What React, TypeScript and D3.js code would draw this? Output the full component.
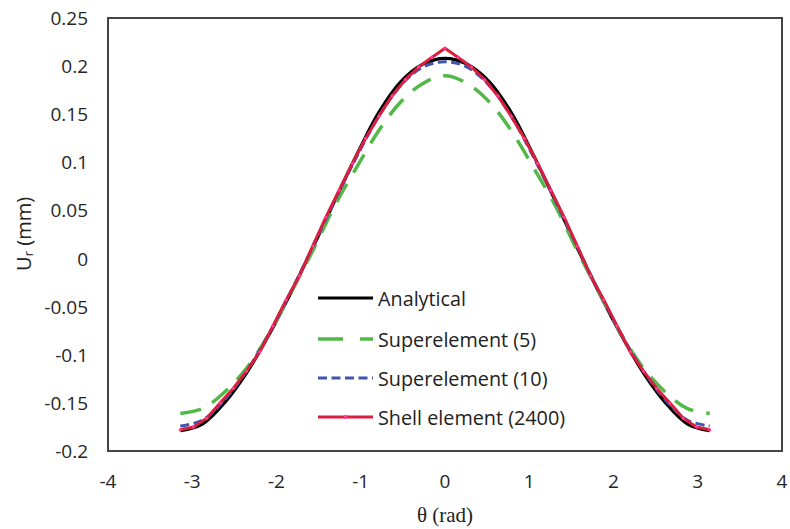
import React from "react";
import * as d3 from "d3";

// theta grid (rad), step pi/12, left half (mirrored for right half)
const thetaHalf = [-3.1416, -2.8798, -2.618, -2.3562, -2.0944, -1.8326, -1.5708, -1.309, -1.0472, -0.7854, -0.5236, -0.2618, 0];
const analyticalHalf = [-0.179, -0.172, -0.150, -0.119, -0.080, -0.036, 0.011, 0.060, 0.108, 0.152, 0.184, 0.202, 0.208];
const super5Half = [-0.161, -0.156, -0.139, -0.114, -0.079, -0.036, 0.008, 0.055, 0.095, 0.133, 0.163, 0.182, 0.190];
const super10Half = [-0.174, -0.168, -0.147, -0.117, -0.079, -0.035, 0.012, 0.060, 0.106, 0.148, 0.180, 0.199, 0.2045];

// shell element, theta step pi/20
const shellThetaHalf = [-3.1416, -2.9845, -2.8274, -2.6704, -2.5133, -2.3562, -2.1991, -2.042, -1.885, -1.7279, -1.5708, -1.4137, -1.2566, -1.0996, -0.9425, -0.7854, -0.6283, -0.4712, -0.3142, -0.1571, 0];
const shellHalf = [-0.178, -0.175, -0.166, -0.150, -0.135, -0.117, -0.097, -0.070, -0.043, -0.018, 0.013, 0.043, 0.071, 0.099, 0.125, 0.148, 0.169, 0.186, 0.199, 0.209, 0.2186];

const xTicks = [-4, -3, -2, -1, 0, 1, 2, 3, 4];
const yTicks = [0.25, 0.2, 0.15, 0.1, 0.05, 0, -0.05, -0.1, -0.15, -0.2];

const seriesNames = ["Analytical", "Superelement (5)", "Superelement (10)", "Shell element (2400)"];

function mirror(th: number[], v: number[]): [number, number][] {
  const left = th.map((t, i) => [t, v[i]] as [number, number]);
  const right = th
    .slice(0, -1)
    .map((t, i) => [-t, v[i]] as [number, number])
    .reverse();
  return [...left, ...right];
}

export default function App() {
  const W = 790, H = 529;
  const x = d3.scaleLinear().domain([-4, 4]).range([108, 782]);
  const y = d3.scaleLinear().domain([-0.2, 0.25]).range([451, 18]);

  const smooth = d3.line<[number, number]>().x(d => x(d[0])).y(d => y(d[1])).curve(d3.curveCatmullRom);
  const lin = d3.line<[number, number]>().x(d => x(d[0])).y(d => y(d[1]));

  const anal = mirror(thetaHalf, analyticalHalf);
  const s5 = mirror(thetaHalf, super5Half);
  const s10 = mirror(thetaHalf, super10Half);
  const shell = mirror(shellThetaHalf, shellHalf);

  const tickColor = "#262626";
  const font = "'Open Sans', sans-serif";

  const legendY = [298, 339, 378, 417];
  const lx0 = 318, lx1 = 373;

  const styles = [
    { stroke: "#000", width: 3.2, dash: undefined as string | undefined },
    { stroke: "#52b848", width: 3.5, dash: "21 13" },
    { stroke: "#3f56ad", width: 3, dash: "9 4.5" },
    { stroke: "#d91e3e", width: 3, dash: undefined as string | undefined },
  ];

  return (
    <svg width={W} height={H} style={{ position: "absolute", left: 0, top: 0, background: "#fff" }}>
      <rect x={0} y={0} width={W} height={H} fill="#fff" />
      {/* frame */}
      <rect x={108} y={18} width={674} height={433} fill="none" stroke="#444" strokeWidth={2} />

      {/* y ticks */}
      {yTicks.map(t => (
        <text key={"y" + t} x={88} y={y(t)} textAnchor="end" dominantBaseline="central" fontFamily={font} fontSize={19} fill={tickColor}>
          {String(t)}
        </text>
      ))}
      {/* x ticks */}
      {xTicks.map(t => (
        <text key={"x" + t} x={x(t)} y={481} textAnchor="middle" dominantBaseline="central" fontFamily={font} fontSize={19} fill={tickColor}>
          {String(t)}
        </text>
      ))}

      {/* axis titles */}
      <text x={445} y={515} textAnchor="middle" dominantBaseline="central" fontFamily="'Liberation Serif', 'Times New Roman', serif" fontSize={21} fill="#222">
        θ (rad)
      </text>
      <text transform={`translate(23,234) rotate(-90)`} textAnchor="middle" dominantBaseline="central" fontFamily={font} fontSize={20} fill="#222">
        U<tspan fontSize={13.5} dy={5}>r</tspan><tspan dy={-5}> (mm)</tspan>
      </text>

      {/* curves */}
      <path d={smooth(anal) || ""} fill="none" stroke={styles[0].stroke} strokeWidth={styles[0].width} />
      <path d={smooth(s5) || ""} fill="none" stroke={styles[1].stroke} strokeWidth={styles[1].width} strokeDasharray={styles[1].dash} />
      <path d={smooth(s10) || ""} fill="none" stroke={styles[2].stroke} strokeWidth={styles[2].width} strokeDasharray={styles[2].dash} />
      <path d={lin(shell) || ""} fill="none" stroke={styles[3].stroke} strokeWidth={styles[3].width} strokeLinejoin="round" />
      {shell.map((d, i) => (
        <circle key={"m" + i} cx={x(d[0])} cy={y(d[1])} r={1.6} fill="#ff3c8c" />
      ))}

      {/* legend */}
      {seriesNames.map((name, i) => (
        <g key={name}>
          <line x1={lx0} x2={lx1} y1={legendY[i]} y2={legendY[i]} stroke={styles[i].stroke} strokeWidth={styles[i].width} strokeDasharray={i === 1 ? "25 17" : styles[i].dash} />
          {i === 3 && <circle cx={(lx0 + lx1) / 2} cy={legendY[i]} r={2} fill="#ff3c8c" />}
          <text x={378} y={legendY[i]} dominantBaseline="central" fontFamily={font} fontSize={19.8} fill="#222">
            {name}
          </text>
        </g>
      ))}
    </svg>
  );
}
